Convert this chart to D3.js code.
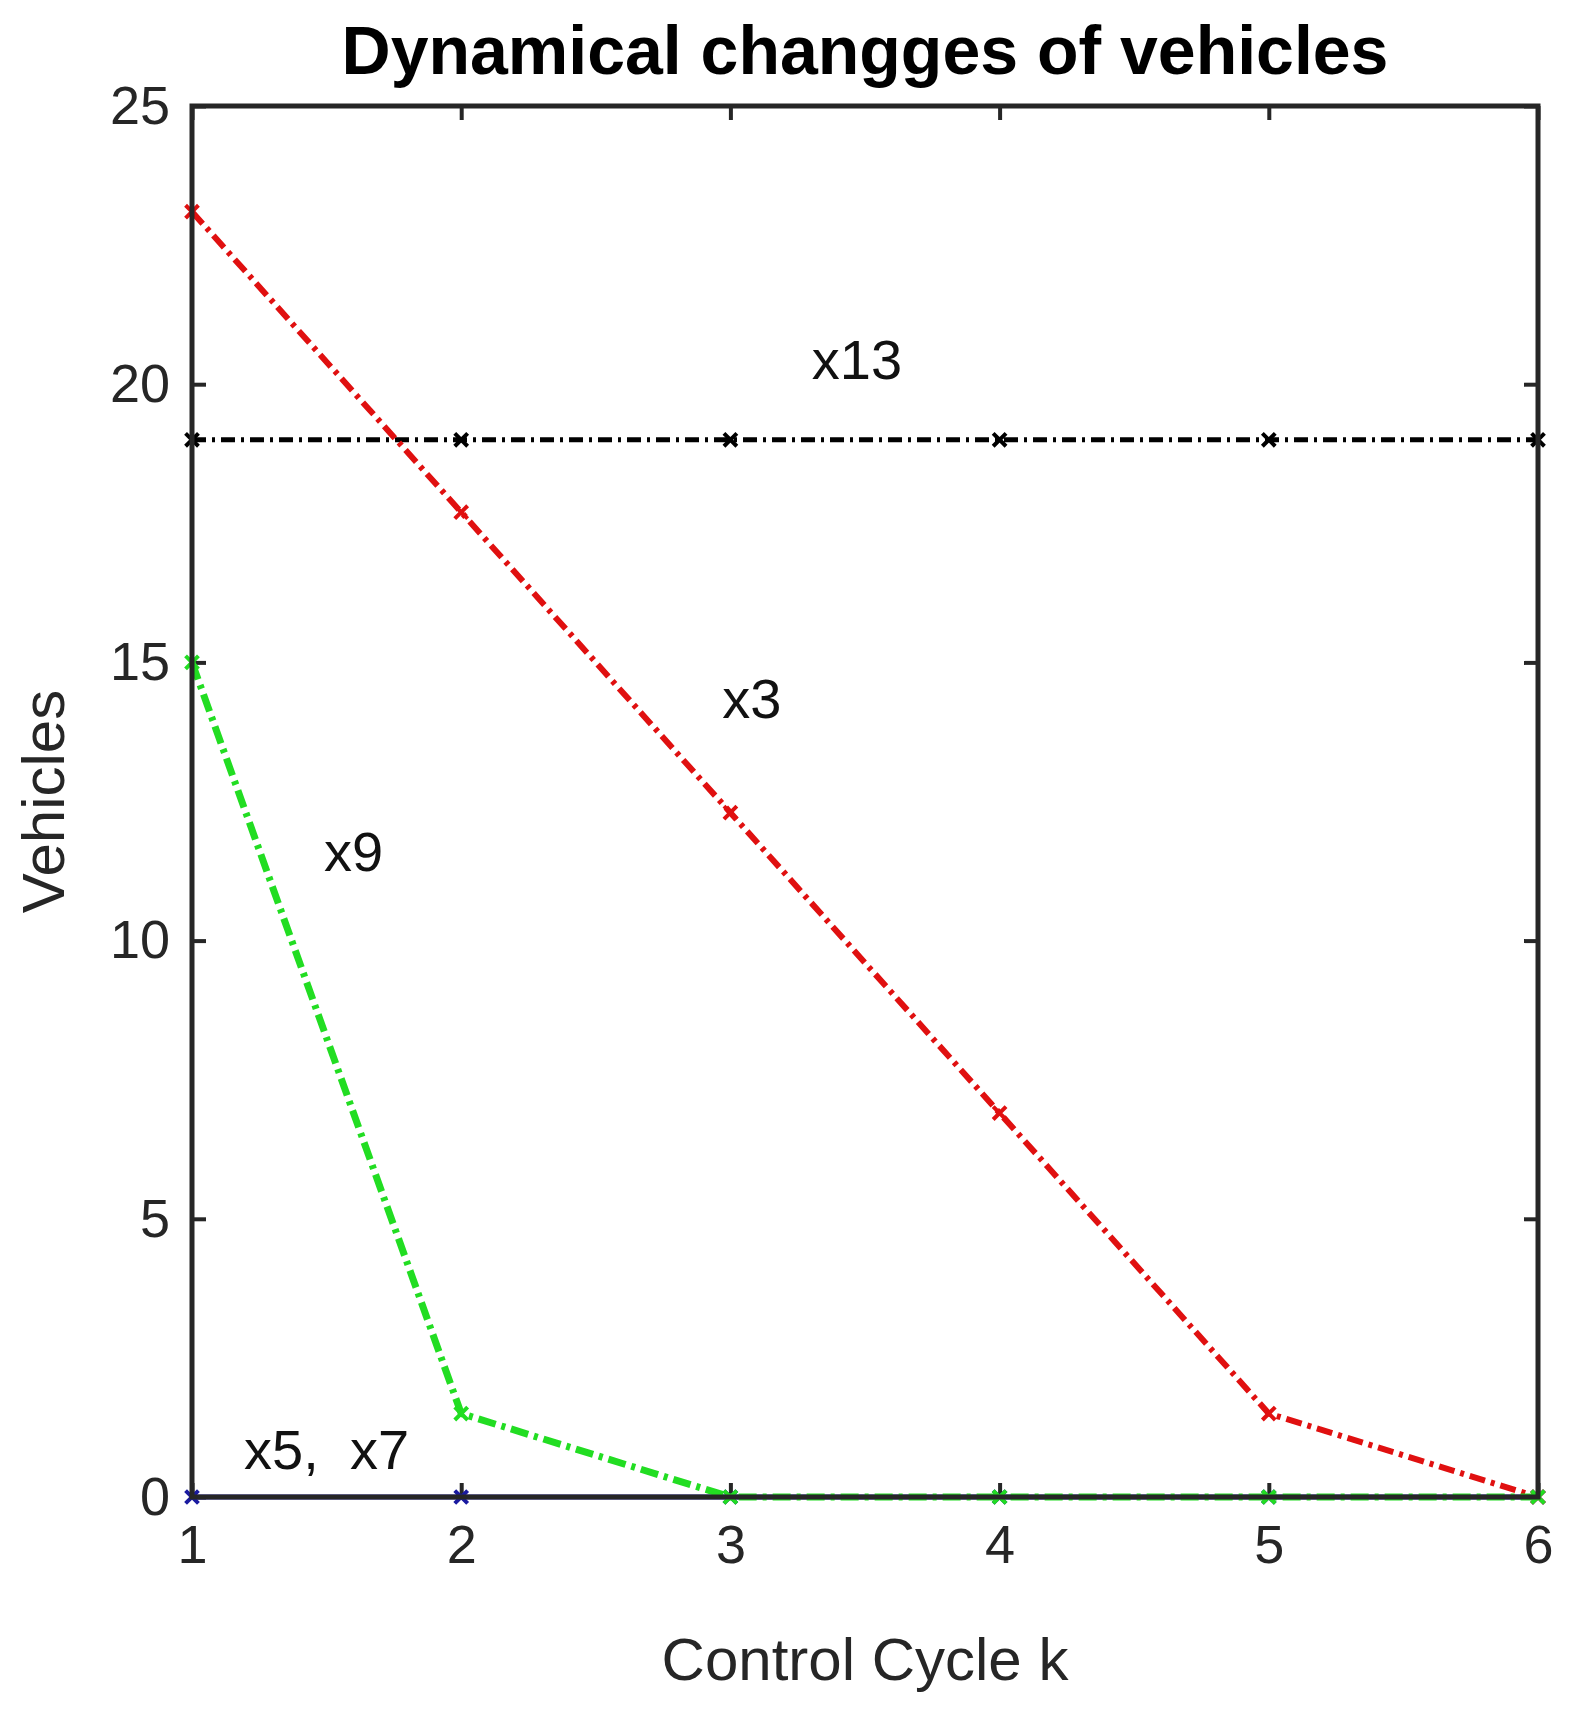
<!DOCTYPE html>
<html><head><meta charset="utf-8">
<script src="https://cdn.jsdelivr.net/npm/d3@7"></script>
<style>body{margin:0;background:#fff}text{font-family:Arial,"Liberation Sans",sans-serif}</style>
</head><body><div id="chart"></div>
<script>
const cycles = [1, 2, 3, 4, 5, 6];
const x3 = [23.1, 17.7, 12.3, 6.9, 1.5, 0];
const x9 = [15, 1.5, 0, 0, 0, 0];
const x13 = [19, 19, 19, 19, 19, 19];
const x5x7 = [0, 0, 0, 0, 0, 0];
const yTicks = [0, 5, 10, 15, 20, 25];

const margin = {top: 106, right: 42, bottom: 217, left: 192};
const W = 1580, H = 1714;
const w = W - margin.left - margin.right, h = H - margin.top - margin.bottom;

const svg = d3.select('#chart').append('svg').attr('width', W).attr('height', H);
const g = svg.append('g').attr('transform', `translate(${margin.left},${margin.top})`);

const x = d3.scaleLinear().domain([1, 6]).range([0, w]);
const y = d3.scaleLinear().domain([0, 25]).range([h, 0]);

// ticks inward on all sides
const tk = 14;
g.append('g').attr('transform', `translate(0,${h})`)
  .call(d3.axisBottom(x).tickValues(cycles).tickSize(-tk).tickPadding(28).tickFormat(d3.format('d')));
g.append('g').call(d3.axisTop(x).tickValues(cycles).tickSize(-tk).tickFormat(''));
g.append('g').call(d3.axisLeft(y).tickValues(yTicks).tickSize(-tk).tickPadding(22));
g.append('g').attr('transform', `translate(${w},0)`)
  .call(d3.axisRight(y).tickValues(yTicks).tickSize(-tk).tickFormat(''));
g.selectAll('.domain').remove();
g.selectAll('.tick line').attr('stroke', '#262626').attr('stroke-width', 4);
g.selectAll('.tick text').attr('font-size', 54).attr('fill', '#262626');

const line = d3.line().x((d, i) => x(cycles[i])).y(d => y(d));
const series = [
  {v: x5x7, c: '#1a1aa0', dash: null, wdt: 5},
  {v: x13, c: '#000', dash: '14,6,3,6', wdt: 5},
  {v: x3, c: '#e01010', dash: '16,6,4,6', wdt: 6},
  {v: x9, c: '#22dd22', dash: '18,6,4,6', wdt: 7}
];
series.forEach(s => {
  g.append('path').datum(s.v).attr('d', line).attr('fill', 'none')
    .attr('stroke', s.c).attr('stroke-width', s.wdt)
    .attr('stroke-dasharray', s.dash);
  g.selectAll(null).data(s.v).enter().append('path')
    .attr('transform', (d, i) => `translate(${x(cycles[i])},${y(d)})`)
    .attr('d', d3.symbol(d3.symbolX, 110)())
    .attr('stroke', s.c).attr('stroke-width', 4).attr('fill', 'none');
});

// frame
g.append('rect').attr('width', w).attr('height', h).attr('fill', 'none')
  .attr('stroke', '#262626').attr('stroke-width', 5);

// annotations
const ann = [
  {t: 'x13', cx: 3.47, cy: 20.1},
  {t: 'x3', cx: 3.08, cy: 14.0},
  {t: 'x9', cx: 1.6, cy: 11.25},
  {t: 'x5,  x7', cx: 1.5, cy: 0.5}
];
g.selectAll('.ann').data(ann).enter().append('text')
  .attr('x', d => x(d.cx)).attr('y', d => y(d.cy))
  .attr('text-anchor', 'middle').attr('font-size', 56).attr('fill', '#111')
  .style('white-space', 'pre').attr('xml:space', 'preserve')
  .text(d => d.t);

svg.append('text').attr('x', margin.left + w / 2).attr('y', 74)
  .attr('text-anchor', 'middle').attr('font-size', 68).attr('font-weight', 'bold')
  .text('Dynamical changges of vehicles');
svg.append('text').attr('x', margin.left + w / 2).attr('y', 1680)
  .attr('text-anchor', 'middle').attr('font-size', 60).attr('fill', '#262626')
  .text('Control Cycle k');
svg.append('text').attr('transform', `translate(64,${margin.top + h / 2}) rotate(-90)`)
  .attr('text-anchor', 'middle').attr('font-size', 60).attr('fill', '#262626')
  .text('Vehicles');
</script></body></html>
